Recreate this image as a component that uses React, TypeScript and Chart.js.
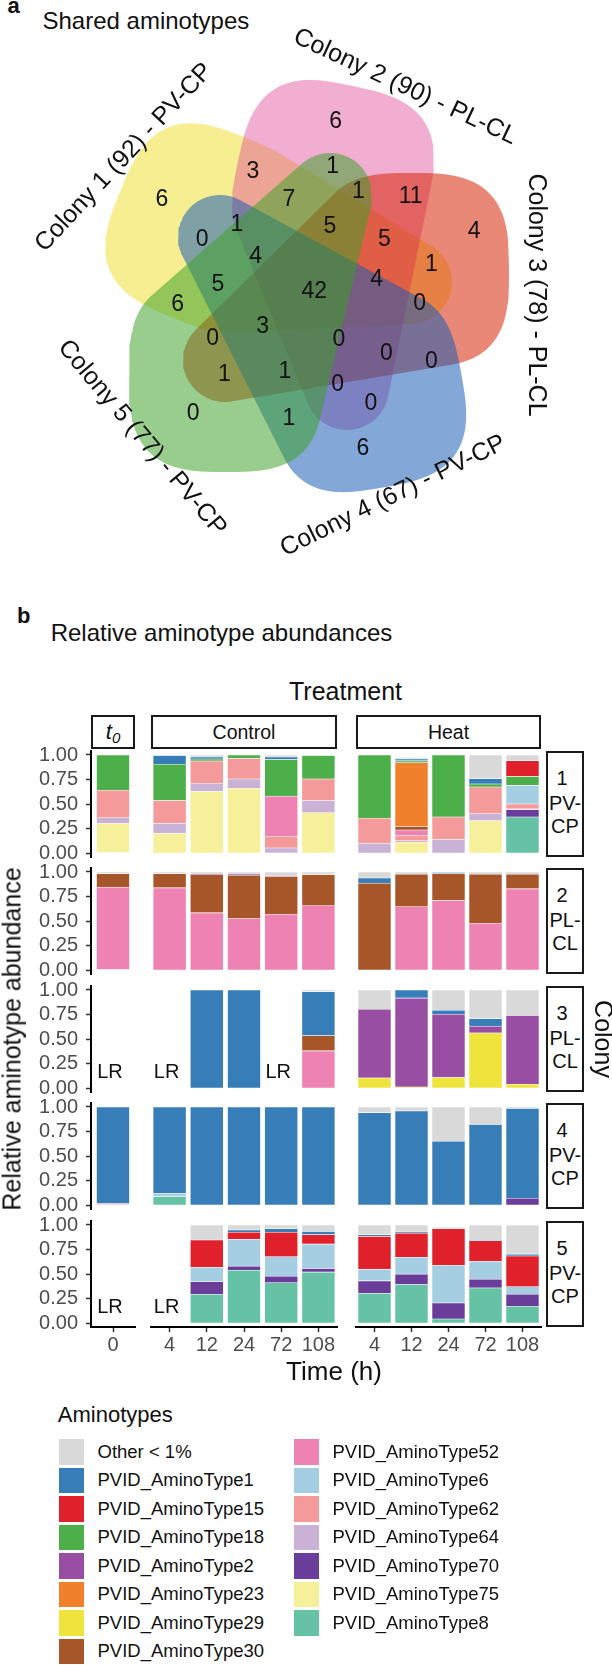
import React, { useEffect, useRef } from 'react';
import { Chart, registerables } from 'chart.js';
Chart.register(...registerables);

const FONT = '"Liberation Sans", Arial, Helvetica, sans-serif';

// ================= Panel a : Venn =================
const setNames = ['Colony 1 (92) - PV-CP', 'Colony 2 (90) - PL-CL', 'Colony 3 (78) - PL-CL', 'Colony 4 (67) - PV-CP', 'Colony 5 (77) - PV-CP'];
const setColors = ['rgba(235,215,0,0.43)', 'rgba(225,75,150,0.45)', 'rgba(215,30,0,0.53)', 'rgba(20,90,180,0.53)', 'rgba(60,160,40,0.53)'];
// shape layout of each set: outer end centre x, y, outer radius, rounding rotation (deg), tip centre x, y, tip radius
const blobLayout = [
  [210, 228, 97, 22, 410, 282, 42],
  [333, 181, 97, 12, 347, 388, 42],
  [412, 270, 97, 0, 225, 360, 42],
  [366, 392, 97, -10, 220, 237, 42],
  [226, 375, 97, 0, 330, 195, 42],
];
const regionCounts = [6, 6, 3, 1, 1, 11, 4, 7, 5, 5, 1, 0, 4, 1, 4, 5, 42, 6, 0, 3, 0, 0, 0, 0, 1, 1, 0, 0, 0, 1, 6];
const regionPos = [
  [162, 200], [335.7, 121.7], [252.9, 171.7], [332.6, 166.7], [358.3, 191.7], [410.6, 196.7], [474.2, 231.7],
  [288.8, 200], [329.8, 226.7], [384.5, 240], [236.9, 225], [202.2, 240], [255.7, 256.7], [431.3, 265],
  [376.7, 280], [217.8, 285], [314.2, 291.7], [177.6, 305], [419.6, 303.3], [262.7, 326.7], [212.7, 338.3],
  [338.8, 340], [386.4, 353.3], [431.3, 361.7], [224.4, 375], [284.9, 371.7], [337.6, 385], [370.8, 403.3],
  [193.2, 413.3], [288.8, 418.3], [363, 448.3],
];
const setLabelPos = [[124, 157.5, -47], [405, 87, 25], [536, 295, 90], [393, 496, -26], [142, 438, 50]];

// ================= Panel b : stacked bars =================
const aminotypes = ['Other < 1%', 'PVID_AminoType1', 'PVID_AminoType15', 'PVID_AminoType18', 'PVID_AminoType2', 'PVID_AminoType23', 'PVID_AminoType29', 'PVID_AminoType30', 'PVID_AminoType52', 'PVID_AminoType6', 'PVID_AminoType62', 'PVID_AminoType64', 'PVID_AminoType70', 'PVID_AminoType75', 'PVID_AminoType8'];
const aminoColors = ['#D9D9D9', '#377EB8', '#E0202A', '#4DAF4A', '#984EA3', '#F0802A', '#EEE43C', '#A65628', '#EE82B2', '#A6CEE3', '#F49A9A', '#CAB2D6', '#6A3D9A', '#F6F09A', '#66C2A5'];

const timeLabels = ['0', '4', '12', '24', '72', '108', '4', '12', '24', '72', '108'];
const facetNames = ['t0', 'Control', 'Heat'];
const colonyIds = ['1', '2', '3', '4', '5'];
const colonyTypes = ['PV-CP', 'PL-CL', 'PL-CL', 'PV-CP', 'PV-CP'];
const lowReads = [[], [], [0, 1, 4], [], [0, 1]];

// rows: colony 1..5 ; columns: t0, C4, C12, C24, C72, C108, H4, H12, H24, H72, H108
const Z = [0, 0, 0, 0, 0, 0, 0, 0, 0, 0, 0];
const other = [
  [0, 0, 0.02, 0, 0.02, 0, 0, 0.015, 0, 0.242, 0.058],
  [0.017, 0.017, 0.022, 0.019, 0.038, 0.028, 0.062, 0.024, 0.007, 0.024, 0.024],
  [0, 0, 0, 0, 0, 0.017, 0.197, 0, 0.207, 0.293, 0.259],
  [0, 0, 0, 0, 0, 0, 0.058, 0.041, 0.349, 0.178, 0.014],
  [0, 0, 0.154, 0.051, 0.038, 0.065, 0.099, 0.072, 0.014, 0.147, 0.297],
];
const at1 = [
  [0, 0.09, 0.02, 0, 0.025, 0, 0, 0.02, 0, 0.054, 0],
  [0, 0, 0, 0.005, 0, 0, 0.052, 0, 0.01, 0, 0],
  [0, 0, 1, 1, 0, 0.449, 0, 0.083, 0.041, 0.076, 0],
  [0.986, 0.88, 1, 1, 1, 1, 0.942, 0.959, 0.651, 0.822, 0.918],
  [0, 0, 0, 0.024, 0.037, 0.034, 0.017, 0.013, 0, 0.013, 0.02],
];
const at15 = [
  [0, 0, 0, 0, 0, 0, 0, 0, 0, 0, 0.16],
  Z, Z, Z,
  [0, 0, 0.279, 0.072, 0.249, 0.096, 0.335, 0.246, 0.375, 0.212, 0.314],
];
const at18 = [
  [0.36, 0.37, 0.02, 0.035, 0.375, 0.24, 0.645, 0.02, 0.633, 0.031, 0.092],
  Z, Z, Z, Z,
];
const at2 = [
  Z,
  [0, 0, 0.005, 0.01, 0.007, 0, 0, 0, 0, 0, 0],
  [0, 0, 0, 0, 0, 0, 0.70, 0.907, 0.645, 0.069, 0.703],
  Z, Z,
];
const at23 = [[0, 0, 0, 0, 0, 0, 0, 0.65, 0, 0, 0], Z, Z, Z, Z];
const at29 = [Z, Z, [0, 0, 0, 0, 0, 0, 0.103, 0.01, 0.107, 0.562, 0.038], Z, Z];
const at30 = [
  [0, 0, 0, 0, 0, 0, 0, 0.035, 0, 0, 0],
  [0.138, 0.145, 0.39, 0.442, 0.386, 0.317, 0.886, 0.331, 0.273, 0.5, 0.148],
  [0, 0, 0, 0, 0, 0.155, 0, 0, 0, 0, 0],
  Z, Z,
];
const at52 = [
  [0, 0, 0, 0, 0.41, 0, 0, 0.06, 0, 0, 0],
  [0.845, 0.838, 0.583, 0.524, 0.569, 0.655, 0, 0.645, 0.71, 0.476, 0.828],
  [0, 0, 0, 0, 0, 0.379, 0, 0, 0, 0, 0],
  [0.014, 0, 0, 0, 0, 0, 0, 0, 0, 0, 0],
  Z,
];
const at6 = [
  [0, 0, 0, 0, 0, 0, 0, 0, 0, 0, 0.19],
  Z, Z,
  [0, 0.034, 0, 0, 0, 0, 0, 0, 0, 0, 0],
  [0, 0, 0.147, 0.273, 0.198, 0.249, 0.119, 0.171, 0.382, 0.181, 0.075],
];
const at62 = [[0.28, 0.235, 0.233, 0.21, 0.12, 0.22, 0.255, 0.05, 0.231, 0.273, 0.05], Z, Z, Z, Z];
const at64 = [[0.06, 0.10, 0.078, 0.095, 0.05, 0.125, 0.10, 0.015, 0.136, 0.07, 0.008], Z, Z, Z, Z];
const at70 = [
  [0, 0, 0, 0, 0, 0, 0, 0, 0, 0, 0.075],
  Z, Z,
  [0, 0, 0, 0, 0, 0, 0, 0, 0, 0, 0.068],
  [0, 0, 0.126, 0.041, 0.068, 0.037, 0.13, 0.106, 0.164, 0.089, 0.123],
];
const at75 = [[0.30, 0.20, 0.628, 0.66, 0, 0.41, 0, 0.11, 0, 0.33, 0], Z, Z, Z, Z];
const at8 = [
  [0, 0, 0, 0, 0, 0, 0, 0, 0, 0, 0.367],
  Z, Z,
  [0, 0.086, 0, 0, 0, 0, 0, 0, 0, 0, 0],
  [0, 0, 0.294, 0.539, 0.41, 0.519, 0.30, 0.392, 0.041, 0.358, 0.171],
];
const aminoValues = [other, at1, at15, at18, at2, at23, at29, at30, at52, at6, at62, at64, at70, at75, at8];

// ---- layout
const FACETS = [
  { cols: [0], x0: 91, x1: 135 },
  { cols: [1, 2, 3, 4, 5], x0: 151, x1: 337 },
  { cols: [6, 7, 8, 9, 10], x0: 356, x1: 541 },
];
const ROW_TOP = [751, 868, 986, 1103, 1221];
const PANEL_H = 106;

function convexHull(pts: { x: number; y: number }[]) {
  const p = pts.slice().sort((a, b) => (a.x === b.x ? a.y - b.y : a.x - b.x));
  const cross = (o: any, a: any, b: any) => (a.x - o.x) * (b.y - o.y) - (a.y - o.y) * (b.x - o.x);
  const lower: any[] = [];
  for (const q of p) {
    while (lower.length >= 2 && cross(lower[lower.length - 2], lower[lower.length - 1], q) <= 0) lower.pop();
    lower.push(q);
  }
  const upper: any[] = [];
  for (let i = p.length - 1; i >= 0; i--) {
    const q = p[i];
    while (upper.length >= 2 && cross(upper[upper.length - 2], upper[upper.length - 1], q) <= 0) upper.pop();
    upper.push(q);
  }
  upper.pop();
  lower.pop();
  const hull = lower.concat(upper);
  hull.push(hull[0]);
  return hull;
}

function blobPoints(p: number[]) {
  const [ox, oy, oR, rotDeg, tx, ty, tR] = p;
  const rot = (rotDeg * Math.PI) / 180;
  const pts: { x: number; y: number }[] = [];
  const steps = 144;
  const n = 3;
  for (let i = 0; i < steps; i++) {
    const t = (i / steps) * 2 * Math.PI;
    const c = Math.cos(t), s = Math.sin(t);
    const ue = oR * Math.sign(c) * Math.pow(Math.abs(c), 2 / n);
    const ve = oR * Math.sign(s) * Math.pow(Math.abs(s), 2 / n);
    pts.push({ x: ox + ue * Math.cos(rot) - ve * Math.sin(rot), y: oy + ue * Math.sin(rot) + ve * Math.cos(rot) });
    pts.push({ x: tx + tR * c, y: ty + tR * s });
  }
  return convexHull(pts);
}

function Venn() {
  const ref = useRef<HTMLCanvasElement>(null);
  useEffect(() => {
    const drawOrder = [4, 3, 2, 1, 0];
    const chart = new Chart(ref.current!, {
      type: 'line',
      data: {
        datasets: setNames.map((name, i) => ({
          label: name,
          data: blobPoints(blobLayout[i]),
          backgroundColor: setColors[i],
          borderColor: 'rgba(0,0,0,0)',
          borderWidth: 0,
          pointRadius: 0,
          fill: 'shape',
          tension: 0,
          order: drawOrder.indexOf(i),
        })) as any,
      },
      options: {
        responsive: false,
        animation: false,
        events: [],
        layout: { padding: 0 },
        plugins: { legend: { display: false }, tooltip: { enabled: false } },
        scales: {
          x: { type: 'linear', min: 0, max: 612, display: false },
          y: { type: 'linear', min: 0, max: 560, reverse: true, display: false },
        },
      },
      plugins: [
        {
          id: 'vennText',
          afterDatasetsDraw(c: any) {
            const ctx = c.ctx;
            const xs = c.scales.x, ys = c.scales.y;
            ctx.save();
            ctx.fillStyle = '#111';
            ctx.textAlign = 'center';
            ctx.textBaseline = 'middle';
            ctx.font = `23px ${FONT}`;
            regionCounts.forEach((v, i) => {
              ctx.fillText(String(v), xs.getPixelForValue(regionPos[i][0]), ys.getPixelForValue(regionPos[i][1]));
            });
            ctx.font = `25px ${FONT}`;
            setNames.forEach((name, i) => {
              const [lx, ly, rot] = setLabelPos[i];
              ctx.save();
              ctx.translate(xs.getPixelForValue(lx), ys.getPixelForValue(ly));
              ctx.rotate((rot * Math.PI) / 180);
              ctx.fillText(name, 0, 0);
              ctx.restore();
            });
            ctx.restore();
          },
        },
      ],
    });
    return () => chart.destroy();
  }, []);
  return <canvas ref={ref} width={612} height={560} style={{ position: 'absolute', left: 0, top: 0, width: 612, height: 560 }} />;
}

function BarPanel({ row, facet }: { row: number; facet: number }) {
  const ref = useRef<HTMLCanvasElement>(null);
  const f = FACETS[facet];
  const isLeft = facet === 0;
  const isBottom = row === 4;
  const padL = isLeft ? 0 : 12;
  const padR = 14;
  const padT = 14;
  const axisH = isBottom ? 34 : 0;
  const padB = isBottom ? 2 : 14;
  const left = isLeft ? 0 : f.x0 - padL;
  const width = (isLeft ? f.x1 : f.x1 - f.x0 + padL) + padR;
  const top = ROW_TOP[row] - padT;
  const height = padT + PANEL_H + axisH + padB;
  useEffect(() => {
    const stackOrder = aminotypes.map((_, i) => aminotypes.length - 1 - i);
    const chart = new Chart(ref.current!, {
      type: 'bar',
      data: {
        labels: f.cols.map((c) => timeLabels[c]),
        datasets: stackOrder.map((k) => ({
          label: aminotypes[k],
          data: f.cols.map((c) => aminoValues[k][row][c] || null),
          backgroundColor: aminoColors[k],
          borderColor: 'rgba(255,255,255,0.7)',
          borderWidth: 0.6,
          borderSkipped: false,
          barThickness: 33,
        })) as any,
      },
      options: {
        responsive: false,
        animation: false,
        events: [],
        layout: { padding: { left: padL, right: padR, top: padT, bottom: padB } },
        plugins: { legend: { display: false }, tooltip: { enabled: false } },
        scales: {
          x: {
            type: 'category',
            stacked: true,
            display: isBottom,
            offset: true,
            grid: { display: true, drawOnChartArea: false, drawTicks: true, offset: false, tickLength: 5, tickWidth: 1.5, tickColor: '#333' } as any,
            border: { display: true, color: '#000', width: 2 },
            ticks: { color: '#4D4D4D', font: { family: FONT, size: 20 }, padding: 1, maxRotation: 0, autoSkip: false },
            afterFit: (s: any) => { s.height = isBottom ? axisH : 0; s.paddingLeft = 0; s.paddingRight = 0; },
          },
          y: {
            type: 'linear',
            stacked: true,
            display: isLeft,
            min: -0.0408,
            max: 1.0408,
            grid: { display: true, drawOnChartArea: false, drawTicks: true, tickLength: 5, tickWidth: 1.5, tickColor: '#333' } as any,
            border: { display: true, color: '#000', width: 2 },
            ticks: {
              stepSize: 0.25,
              includeBounds: false,
              autoSkip: false,
              color: '#4D4D4D',
              font: { family: FONT, size: 20 },
              padding: 8,
              callback: (v: any) => Number(v).toFixed(2),
            },
            afterFit: (s: any) => { s.width = isLeft ? f.x0 : 0; s.paddingTop = 0; s.paddingBottom = 0; },
          },
        },
      },
      plugins: [
        {
          id: 'lowReads',
          afterDatasetsDraw(c: any) {
            const ctx = c.ctx;
            f.cols.forEach((col, i) => {
              if ((lowReads[row] as number[]).includes(col)) {
                ctx.save();
                ctx.font = `20px ${FONT}`;
                ctx.fillStyle = '#111';
                ctx.textAlign = 'center';
                ctx.textBaseline = 'middle';
                ctx.fillText('LR', c.scales.x.getPixelForValue(i) - 3, c.scales.y.getPixelForValue(0.16));
                ctx.restore();
              }
            });
          },
        },
      ],
    });
    return () => chart.destroy();
  }, []);
  return <canvas ref={ref} width={width} height={height} style={{ position: 'absolute', left, top, width, height }} />;
}

function T(props: { x: number; y: number; size: number; children: any; center?: boolean; bold?: boolean; color?: string }) {
  const { x, y, size, children, center, bold, color } = props;
  return (
    <div
      style={{
        position: 'absolute',
        left: x,
        top: y - 0.8465 * size,
        fontSize: size,
        lineHeight: `${size}px`,
        fontWeight: bold ? 700 : 400,
        color: color || '#111',
        whiteSpace: 'nowrap',
        transform: center ? 'translateX(-50%)' : undefined,
      }}
    >
      {children}
    </div>
  );
}

function RotT(props: { x: number; y: number; size: number; rot: number; children: any }) {
  const { x, y, size, rot, children } = props;
  return (
    <div
      style={{
        position: 'absolute',
        left: x,
        top: y,
        fontSize: size,
        lineHeight: `${size}px`,
        color: '#111',
        whiteSpace: 'nowrap',
        transform: `translate(-50%,-50%) rotate(${rot}deg)`,
      }}
    >
      {children}
    </div>
  );
}

export default function App() {
  const legendCol1 = aminotypes.slice(0, 8);
  const legendCol2 = aminotypes.slice(8);
  return (
    <div style={{ position: 'absolute', left: 0, top: 0, width: 612, height: 1665, background: '#fff', fontFamily: FONT, overflow: 'hidden' }}>
      <T x={7.5} y={14} size={22} bold>a</T>
      <T x={42.5} y={29.3} size={24}>Shared aminotypes</T>
      <Venn />

      <T x={17} y={623.5} size={22} bold>b</T>
      <T x={50.7} y={641.7} size={24}>Relative aminotype abundances</T>
      <T x={345.5} y={700} size={25} center>Treatment</T>

      {FACETS.map((f, i) => (
        <div
          key={'strip' + i}
          style={{
            position: 'absolute', left: f.x0, top: 715, width: f.x1 - f.x0, height: 34,
            border: '2px solid #1a1a1a', boxSizing: 'border-box', display: 'flex',
            alignItems: 'center', justifyContent: 'center', fontSize: 19.5, color: '#111',
          }}
        >
          {i === 0 ? (
            <span style={{ fontStyle: 'italic', fontSize: 22 }}>
              t<span style={{ fontSize: 15, position: 'relative', top: 4 }}>0</span>
            </span>
          ) : (
            facetNames[i]
          )}
        </div>
      ))}

      {ROW_TOP.map((rt, r) => (
        <div
          key={'rstrip' + r}
          style={{
            position: 'absolute', left: 546, top: rt, width: 38, height: PANEL_H,
            border: '2px solid #1a1a1a', boxSizing: 'border-box', color: '#111', fontSize: 20,
          }}
        >
          {[colonyIds[r], colonyTypes[r].split('-')[0] + '-', colonyTypes[r].split('-')[1]].map((s, j) => (
            <div key={j} style={{ position: 'absolute', left: j === 0 ? 14 : 17, top: [27, 52, 75][j] - 2, transform: 'translate(-50%,-50%)', lineHeight: '20px', whiteSpace: 'nowrap' }}>
              {s}
            </div>
          ))}
        </div>
      ))}

      {ROW_TOP.map((_, r) => FACETS.map((__, fi) => <BarPanel key={r + '-' + fi} row={r} facet={fi} />))}

      <RotT x={12} y={1039} size={25} rot={-90}>Relative aminotype abundance</RotT>
      <RotT x={603} y={1039} size={25} rot={90}>Colony</RotT>
      <T x={334} y={1380} size={26} center>Time (h)</T>

      <T x={57.8} y={1422.3} size={22}>Aminotypes</T>
      {[legendCol1, legendCol2].map((col, ci) =>
        col.map((name, j) => {
          const k = aminotypes.indexOf(name);
          const kx = ci === 0 ? 58.5 : 293.5;
          const ky = 1439 + j * 28.5;
          return (
            <React.Fragment key={name}>
              <div style={{ position: 'absolute', left: kx, top: ky, width: 25.5, height: 25.5, background: aminoColors[k] }} />
              <T x={kx + 39} y={ky + 12.75 + 6.6} size={18.5}>{name}</T>
            </React.Fragment>
          );
        })
      )}
    </div>
  );
}
